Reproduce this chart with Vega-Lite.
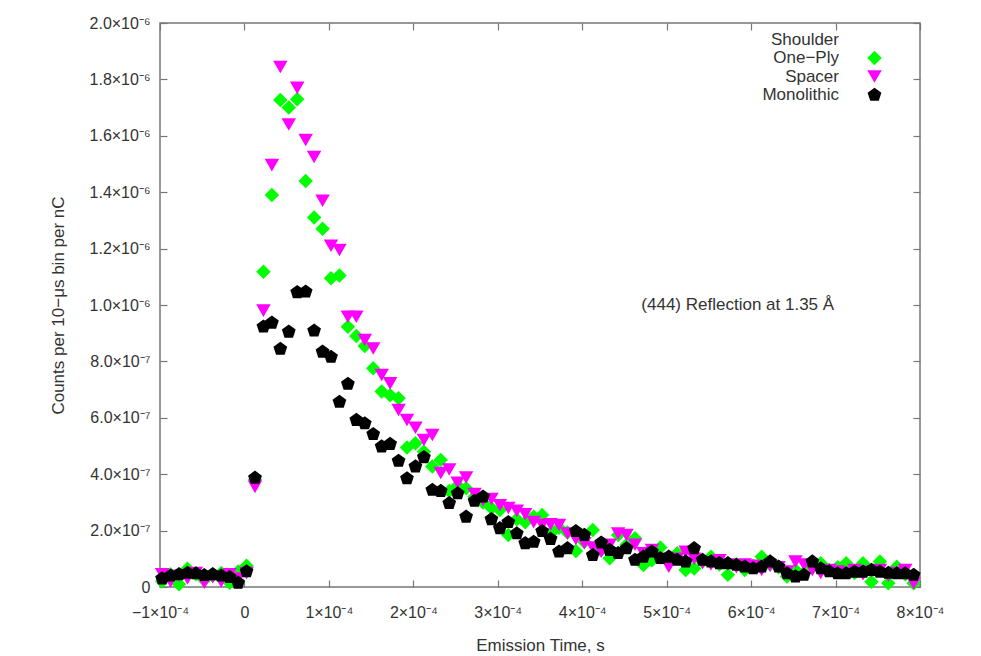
{
 "$schema": "https://vega.github.io/schema/vega-lite/v6.json",
 "width": 760, "height": 564,
 "autosize": {"type": "none"},
 "padding": {"left": 160, "top": 23, "right": 61, "bottom": 69},
 "background": "#ffffff",
 "config": {
  "font": "Liberation Sans",
  "view": {"stroke": "#777777", "strokeWidth": 1.5},
  "axis": {"grid": false, "domain": false, "tickColor": "#777777", "tickSize": -7, "tickWidth": 1.2, "labelColor": "#333333", "labelFont": "Liberation Sans", "labelFontSize": 16, "labelFlush": false, "titleFont": "Liberation Sans", "titleFontSize": 17, "titleFontWeight": "normal", "titleColor": "#333333"}
 },
 "layer": [
  {
   "data": {"values": [
    {"t":-9.75e-5,"v":0.2e-7,"s":"One−Ply"},{"t":-8.75e-5,"v":0.45e-7,"s":"One−Ply"},{"t":-7.75e-5,"v":0.1e-7,"s":"One−Ply"},{"t":-6.75e-5,"v":0.65e-7,"s":"One−Ply"},{"t":-5.75e-5,"v":0.45e-7,"s":"One−Ply"},{"t":-4.75e-5,"v":0.25e-7,"s":"One−Ply"},{"t":-3.75e-5,"v":0.4e-7,"s":"One−Ply"},{"t":-2.75e-5,"v":0.5e-7,"s":"One−Ply"},{"t":-1.75e-5,"v":0.15e-7,"s":"One−Ply"},{"t":-0.75e-5,"v":0.55e-7,"s":"One−Ply"},{"t":0.25e-5,"v":0.75e-7,"s":"One−Ply"},
    {"t":1.25e-5,"v":3.8e-7,"s":"One−Ply"},{"t":2.25e-5,"v":11.18e-7,"s":"One−Ply"},{"t":3.25e-5,"v":13.9e-7,"s":"One−Ply"},{"t":4.25e-5,"v":17.27e-7,"s":"One−Ply"},{"t":5.25e-5,"v":17.0e-7,"s":"One−Ply"},{"t":6.25e-5,"v":17.3e-7,"s":"One−Ply"},{"t":7.25e-5,"v":14.4e-7,"s":"One−Ply"},{"t":8.25e-5,"v":13.1e-7,"s":"One−Ply"},{"t":9.25e-5,"v":12.7e-7,"s":"One−Ply"},{"t":10.25e-5,"v":10.95e-7,"s":"One−Ply"},
    {"t":11.25e-5,"v":11.05e-7,"s":"One−Ply"},{"t":12.25e-5,"v":9.23e-7,"s":"One−Ply"},{"t":13.25e-5,"v":8.9e-7,"s":"One−Ply"},{"t":14.25e-5,"v":8.55e-7,"s":"One−Ply"},{"t":15.25e-5,"v":7.76e-7,"s":"One−Ply"},{"t":16.25e-5,"v":6.93e-7,"s":"One−Ply"},{"t":17.25e-5,"v":6.8e-7,"s":"One−Ply"},{"t":18.25e-5,"v":6.69e-7,"s":"One−Ply"},{"t":19.25e-5,"v":4.95e-7,"s":"One−Ply"},{"t":20.25e-5,"v":5.1e-7,"s":"One−Ply"},
    {"t":21.25e-5,"v":4.8e-7,"s":"One−Ply"},{"t":22.25e-5,"v":4.27e-7,"s":"One−Ply"},{"t":23.25e-5,"v":4.5e-7,"s":"One−Ply"},{"t":24.25e-5,"v":3.4e-7,"s":"One−Ply"},{"t":25.25e-5,"v":3.6e-7,"s":"One−Ply"},{"t":26.25e-5,"v":3.5e-7,"s":"One−Ply"},{"t":27.25e-5,"v":3.2e-7,"s":"One−Ply"},{"t":28.25e-5,"v":3.0e-7,"s":"One−Ply"},{"t":29.25e-5,"v":2.8e-7,"s":"One−Ply"},{"t":30.25e-5,"v":2.73e-7,"s":"One−Ply"},
    {"t":31.25e-5,"v":1.84e-7,"s":"One−Ply"},{"t":32.25e-5,"v":2.4e-7,"s":"One−Ply"},{"t":33.25e-5,"v":2.3e-7,"s":"One−Ply"},{"t":34.25e-5,"v":2.49e-7,"s":"One−Ply"},{"t":35.25e-5,"v":2.55e-7,"s":"One−Ply"},{"t":36.25e-5,"v":1.9e-7,"s":"One−Ply"},{"t":37.25e-5,"v":2.1e-7,"s":"One−Ply"},{"t":38.25e-5,"v":1.93e-7,"s":"One−Ply"},{"t":39.25e-5,"v":1.28e-7,"s":"One−Ply"},{"t":40.25e-5,"v":1.6e-7,"s":"One−Ply"},
    {"t":41.25e-5,"v":2.02e-7,"s":"One−Ply"},{"t":42.25e-5,"v":1.3e-7,"s":"One−Ply"},{"t":43.25e-5,"v":1.02e-7,"s":"One−Ply"},{"t":44.25e-5,"v":1.84e-7,"s":"One−Ply"},{"t":45.25e-5,"v":1.5e-7,"s":"One−Ply"},{"t":46.25e-5,"v":1.73e-7,"s":"One−Ply"},{"t":47.25e-5,"v":0.78e-7,"s":"One−Ply"},{"t":48.25e-5,"v":0.95e-7,"s":"One−Ply"},{"t":49.25e-5,"v":1.4e-7,"s":"One−Ply"},{"t":50.25e-5,"v":1.0e-7,"s":"One−Ply"},
    {"t":51.25e-5,"v":1.2e-7,"s":"One−Ply"},{"t":52.25e-5,"v":0.6e-7,"s":"One−Ply"},{"t":53.25e-5,"v":0.66e-7,"s":"One−Ply"},{"t":54.25e-5,"v":0.9e-7,"s":"One−Ply"},{"t":55.25e-5,"v":1.07e-7,"s":"One−Ply"},{"t":56.25e-5,"v":0.8e-7,"s":"One−Ply"},{"t":57.25e-5,"v":0.43e-7,"s":"One−Ply"},{"t":58.25e-5,"v":0.8e-7,"s":"One−Ply"},{"t":59.25e-5,"v":0.6e-7,"s":"One−Ply"},{"t":60.25e-5,"v":0.75e-7,"s":"One−Ply"},
    {"t":61.25e-5,"v":1.07e-7,"s":"One−Ply"},{"t":62.25e-5,"v":0.8e-7,"s":"One−Ply"},{"t":63.25e-5,"v":0.7e-7,"s":"One−Ply"},{"t":64.25e-5,"v":0.37e-7,"s":"One−Ply"},{"t":65.25e-5,"v":0.6e-7,"s":"One−Ply"},{"t":66.25e-5,"v":0.5e-7,"s":"One−Ply"},{"t":67.25e-5,"v":0.7e-7,"s":"One−Ply"},{"t":68.25e-5,"v":0.84e-7,"s":"One−Ply"},{"t":69.25e-5,"v":0.6e-7,"s":"One−Ply"},{"t":70.25e-5,"v":0.7e-7,"s":"One−Ply"},
    {"t":71.25e-5,"v":0.84e-7,"s":"One−Ply"},{"t":72.25e-5,"v":0.5e-7,"s":"One−Ply"},{"t":73.25e-5,"v":0.84e-7,"s":"One−Ply"},{"t":74.25e-5,"v":0.19e-7,"s":"One−Ply"},{"t":75.25e-5,"v":0.9e-7,"s":"One−Ply"},{"t":76.25e-5,"v":0.13e-7,"s":"One−Ply"},{"t":77.25e-5,"v":0.72e-7,"s":"One−Ply"},{"t":78.25e-5,"v":0.45e-7,"s":"One−Ply"},{"t":79.25e-5,"v":0.13e-7,"s":"One−Ply"},

    {"t":-9.75e-5,"v":0.45e-7,"s":"Spacer"},{"t":-8.75e-5,"v":0.2e-7,"s":"Spacer"},{"t":-7.75e-5,"v":0.4e-7,"s":"Spacer"},{"t":-6.75e-5,"v":0.3e-7,"s":"Spacer"},{"t":-5.75e-5,"v":0.5e-7,"s":"Spacer"},{"t":-4.75e-5,"v":0.15e-7,"s":"Spacer"},{"t":-3.75e-5,"v":0.35e-7,"s":"Spacer"},{"t":-2.75e-5,"v":0.2e-7,"s":"Spacer"},{"t":-1.75e-5,"v":0.45e-7,"s":"Spacer"},{"t":-0.75e-5,"v":0.3e-7,"s":"Spacer"},{"t":0.25e-5,"v":0.5e-7,"s":"Spacer"},
    {"t":1.25e-5,"v":3.55e-7,"s":"Spacer"},{"t":2.25e-5,"v":9.8e-7,"s":"Spacer"},{"t":3.25e-5,"v":14.96e-7,"s":"Spacer"},{"t":4.25e-5,"v":18.44e-7,"s":"Spacer"},{"t":5.25e-5,"v":16.4e-7,"s":"Spacer"},{"t":6.25e-5,"v":17.7e-7,"s":"Spacer"},{"t":7.25e-5,"v":15.85e-7,"s":"Spacer"},{"t":8.25e-5,"v":15.25e-7,"s":"Spacer"},{"t":9.25e-5,"v":13.7e-7,"s":"Spacer"},{"t":10.25e-5,"v":12.1e-7,"s":"Spacer"},
    {"t":11.25e-5,"v":11.95e-7,"s":"Spacer"},{"t":12.25e-5,"v":9.58e-7,"s":"Spacer"},{"t":13.25e-5,"v":9.58e-7,"s":"Spacer"},{"t":14.25e-5,"v":8.76e-7,"s":"Spacer"},{"t":15.25e-5,"v":8.46e-7,"s":"Spacer"},{"t":16.25e-5,"v":7.52e-7,"s":"Spacer"},{"t":17.25e-5,"v":7.22e-7,"s":"Spacer"},{"t":18.25e-5,"v":6.28e-7,"s":"Spacer"},{"t":19.25e-5,"v":5.92e-7,"s":"Spacer"},{"t":20.25e-5,"v":5.65e-7,"s":"Spacer"},
    {"t":21.25e-5,"v":5.21e-7,"s":"Spacer"},{"t":22.25e-5,"v":5.39e-7,"s":"Spacer"},{"t":23.25e-5,"v":4.04e-7,"s":"Spacer"},{"t":24.25e-5,"v":4.17e-7,"s":"Spacer"},{"t":25.25e-5,"v":3.7e-7,"s":"Spacer"},{"t":26.25e-5,"v":3.88e-7,"s":"Spacer"},{"t":27.25e-5,"v":3.3e-7,"s":"Spacer"},{"t":28.25e-5,"v":3.08e-7,"s":"Spacer"},{"t":29.25e-5,"v":3.12e-7,"s":"Spacer"},{"t":30.25e-5,"v":2.9e-7,"s":"Spacer"},
    {"t":31.25e-5,"v":2.8e-7,"s":"Spacer"},{"t":32.25e-5,"v":2.7e-7,"s":"Spacer"},{"t":33.25e-5,"v":2.58e-7,"s":"Spacer"},{"t":34.25e-5,"v":2.3e-7,"s":"Spacer"},{"t":35.25e-5,"v":2.2e-7,"s":"Spacer"},{"t":36.25e-5,"v":2.22e-7,"s":"Spacer"},{"t":37.25e-5,"v":2.2e-7,"s":"Spacer"},{"t":38.25e-5,"v":1.9e-7,"s":"Spacer"},{"t":39.25e-5,"v":1.7e-7,"s":"Spacer"},{"t":40.25e-5,"v":1.55e-7,"s":"Spacer"},
    {"t":41.25e-5,"v":1.4e-7,"s":"Spacer"},{"t":42.25e-5,"v":1.25e-7,"s":"Spacer"},{"t":43.25e-5,"v":1.5e-7,"s":"Spacer"},{"t":44.25e-5,"v":1.9e-7,"s":"Spacer"},{"t":45.25e-5,"v":1.84e-7,"s":"Spacer"},{"t":46.25e-5,"v":1.5e-7,"s":"Spacer"},{"t":47.25e-5,"v":1.2e-7,"s":"Spacer"},{"t":48.25e-5,"v":1.31e-7,"s":"Spacer"},{"t":49.25e-5,"v":1.0e-7,"s":"Spacer"},{"t":50.25e-5,"v":0.72e-7,"s":"Spacer"},
    {"t":51.25e-5,"v":1.0e-7,"s":"Spacer"},{"t":52.25e-5,"v":1.25e-7,"s":"Spacer"},{"t":53.25e-5,"v":1.0e-7,"s":"Spacer"},{"t":54.25e-5,"v":0.85e-7,"s":"Spacer"},{"t":55.25e-5,"v":0.8e-7,"s":"Spacer"},{"t":56.25e-5,"v":0.95e-7,"s":"Spacer"},{"t":57.25e-5,"v":0.8e-7,"s":"Spacer"},{"t":58.25e-5,"v":0.7e-7,"s":"Spacer"},{"t":59.25e-5,"v":0.8e-7,"s":"Spacer"},{"t":60.25e-5,"v":0.75e-7,"s":"Spacer"},
    {"t":61.25e-5,"v":0.6e-7,"s":"Spacer"},{"t":62.25e-5,"v":0.75e-7,"s":"Spacer"},{"t":63.25e-5,"v":0.7e-7,"s":"Spacer"},{"t":64.25e-5,"v":0.55e-7,"s":"Spacer"},{"t":65.25e-5,"v":0.9e-7,"s":"Spacer"},{"t":66.25e-5,"v":0.8e-7,"s":"Spacer"},{"t":67.25e-5,"v":0.6e-7,"s":"Spacer"},{"t":68.25e-5,"v":0.5e-7,"s":"Spacer"},{"t":69.25e-5,"v":0.6e-7,"s":"Spacer"},{"t":70.25e-5,"v":0.55e-7,"s":"Spacer"},
    {"t":71.25e-5,"v":0.5e-7,"s":"Spacer"},{"t":72.25e-5,"v":0.6e-7,"s":"Spacer"},{"t":73.25e-5,"v":0.45e-7,"s":"Spacer"},{"t":74.25e-5,"v":0.55e-7,"s":"Spacer"},{"t":75.25e-5,"v":0.6e-7,"s":"Spacer"},{"t":76.25e-5,"v":0.4e-7,"s":"Spacer"},{"t":77.25e-5,"v":0.5e-7,"s":"Spacer"},{"t":78.25e-5,"v":0.6e-7,"s":"Spacer"},{"t":79.25e-5,"v":0.13e-7,"s":"Spacer"},

    {"t":-9.75e-5,"v":0.3e-7,"s":"Monolithic"},{"t":-8.75e-5,"v":0.4e-7,"s":"Monolithic"},{"t":-7.75e-5,"v":0.45e-7,"s":"Monolithic"},{"t":-6.75e-5,"v":0.5e-7,"s":"Monolithic"},{"t":-5.75e-5,"v":0.48e-7,"s":"Monolithic"},{"t":-4.75e-5,"v":0.42e-7,"s":"Monolithic"},{"t":-3.75e-5,"v":0.45e-7,"s":"Monolithic"},{"t":-2.75e-5,"v":0.4e-7,"s":"Monolithic"},{"t":-1.75e-5,"v":0.35e-7,"s":"Monolithic"},{"t":-0.75e-5,"v":0.15e-7,"s":"Monolithic"},{"t":0.25e-5,"v":0.55e-7,"s":"Monolithic"},
    {"t":1.25e-5,"v":3.87e-7,"s":"Monolithic"},{"t":2.25e-5,"v":9.23e-7,"s":"Monolithic"},{"t":3.25e-5,"v":9.37e-7,"s":"Monolithic"},{"t":4.25e-5,"v":8.44e-7,"s":"Monolithic"},{"t":5.25e-5,"v":9.05e-7,"s":"Monolithic"},{"t":6.25e-5,"v":10.45e-7,"s":"Monolithic"},{"t":7.25e-5,"v":10.47e-7,"s":"Monolithic"},{"t":8.25e-5,"v":9.09e-7,"s":"Monolithic"},{"t":9.25e-5,"v":8.34e-7,"s":"Monolithic"},{"t":10.25e-5,"v":8.16e-7,"s":"Monolithic"},
    {"t":11.25e-5,"v":6.56e-7,"s":"Monolithic"},{"t":12.25e-5,"v":7.2e-7,"s":"Monolithic"},{"t":13.25e-5,"v":5.92e-7,"s":"Monolithic"},{"t":14.25e-5,"v":5.8e-7,"s":"Monolithic"},{"t":15.25e-5,"v":5.42e-7,"s":"Monolithic"},{"t":16.25e-5,"v":4.98e-7,"s":"Monolithic"},{"t":17.25e-5,"v":5.07e-7,"s":"Monolithic"},{"t":18.25e-5,"v":4.47e-7,"s":"Monolithic"},{"t":19.25e-5,"v":3.85e-7,"s":"Monolithic"},{"t":20.25e-5,"v":4.27e-7,"s":"Monolithic"},
    {"t":21.25e-5,"v":4.6e-7,"s":"Monolithic"},{"t":22.25e-5,"v":3.44e-7,"s":"Monolithic"},{"t":23.25e-5,"v":3.4e-7,"s":"Monolithic"},{"t":24.25e-5,"v":2.97e-7,"s":"Monolithic"},{"t":25.25e-5,"v":3.32e-7,"s":"Monolithic"},{"t":26.25e-5,"v":2.49e-7,"s":"Monolithic"},{"t":27.25e-5,"v":3.05e-7,"s":"Monolithic"},{"t":28.25e-5,"v":3.2e-7,"s":"Monolithic"},{"t":29.25e-5,"v":2.4e-7,"s":"Monolithic"},{"t":30.25e-5,"v":2.08e-7,"s":"Monolithic"},
    {"t":31.25e-5,"v":2.3e-7,"s":"Monolithic"},{"t":32.25e-5,"v":1.9e-7,"s":"Monolithic"},{"t":33.25e-5,"v":1.55e-7,"s":"Monolithic"},{"t":34.25e-5,"v":1.6e-7,"s":"Monolithic"},{"t":35.25e-5,"v":1.98e-7,"s":"Monolithic"},{"t":36.25e-5,"v":1.7e-7,"s":"Monolithic"},{"t":37.25e-5,"v":1.25e-7,"s":"Monolithic"},{"t":38.25e-5,"v":1.37e-7,"s":"Monolithic"},{"t":39.25e-5,"v":1.98e-7,"s":"Monolithic"},{"t":40.25e-5,"v":1.84e-7,"s":"Monolithic"},
    {"t":41.25e-5,"v":1.13e-7,"s":"Monolithic"},{"t":42.25e-5,"v":1.57e-7,"s":"Monolithic"},{"t":43.25e-5,"v":1.31e-7,"s":"Monolithic"},{"t":44.25e-5,"v":1.2e-7,"s":"Monolithic"},{"t":45.25e-5,"v":1.37e-7,"s":"Monolithic"},{"t":46.25e-5,"v":0.96e-7,"s":"Monolithic"},{"t":47.25e-5,"v":1.07e-7,"s":"Monolithic"},{"t":48.25e-5,"v":1.25e-7,"s":"Monolithic"},{"t":49.25e-5,"v":1.02e-7,"s":"Monolithic"},{"t":50.25e-5,"v":1.07e-7,"s":"Monolithic"},
    {"t":51.25e-5,"v":0.96e-7,"s":"Monolithic"},{"t":52.25e-5,"v":0.9e-7,"s":"Monolithic"},{"t":53.25e-5,"v":1.37e-7,"s":"Monolithic"},{"t":54.25e-5,"v":0.96e-7,"s":"Monolithic"},{"t":55.25e-5,"v":0.9e-7,"s":"Monolithic"},{"t":56.25e-5,"v":0.84e-7,"s":"Monolithic"},{"t":57.25e-5,"v":0.84e-7,"s":"Monolithic"},{"t":58.25e-5,"v":0.78e-7,"s":"Monolithic"},{"t":59.25e-5,"v":0.72e-7,"s":"Monolithic"},{"t":60.25e-5,"v":0.66e-7,"s":"Monolithic"},
    {"t":61.25e-5,"v":0.72e-7,"s":"Monolithic"},{"t":62.25e-5,"v":0.9e-7,"s":"Monolithic"},{"t":63.25e-5,"v":0.72e-7,"s":"Monolithic"},{"t":64.25e-5,"v":0.48e-7,"s":"Monolithic"},{"t":65.25e-5,"v":0.37e-7,"s":"Monolithic"},{"t":66.25e-5,"v":0.43e-7,"s":"Monolithic"},{"t":67.25e-5,"v":0.9e-7,"s":"Monolithic"},{"t":68.25e-5,"v":0.66e-7,"s":"Monolithic"},{"t":69.25e-5,"v":0.55e-7,"s":"Monolithic"},{"t":70.25e-5,"v":0.48e-7,"s":"Monolithic"},
    {"t":71.25e-5,"v":0.48e-7,"s":"Monolithic"},{"t":72.25e-5,"v":0.54e-7,"s":"Monolithic"},{"t":73.25e-5,"v":0.54e-7,"s":"Monolithic"},{"t":74.25e-5,"v":0.6e-7,"s":"Monolithic"},{"t":75.25e-5,"v":0.54e-7,"s":"Monolithic"},{"t":76.25e-5,"v":0.5e-7,"s":"Monolithic"},{"t":77.25e-5,"v":0.48e-7,"s":"Monolithic"},{"t":78.25e-5,"v":0.48e-7,"s":"Monolithic"},{"t":79.25e-5,"v":0.43e-7,"s":"Monolithic"}
   ]},
   "mark": {"type": "point", "filled": true, "opacity": 1, "size": 210, "strokeWidth": 0},
   "encoding": {
    "x": {"field": "t", "type": "quantitative",
     "scale": {"domain": [-1e-4, 8e-4], "nice": false, "zero": false},
     "axis": {"orient": "bottom", "values": [-1e-4, 0, 1e-4, 2e-4, 3e-4, 4e-4, 5e-4, 6e-4, 7e-4, 8e-4],
      "labelExpr": "datum.value == 0 ? '0' : format(round(datum.value*1e4),'d') + '×10⁻⁴'",
      "labelPadding": 24, "title": "Emission Time, s", "titlePadding": 17}},
    "y": {"field": "v", "type": "quantitative",
     "scale": {"domain": [0, 2e-6], "nice": false, "zero": true},
     "axis": {"orient": "left", "values": [0, 2e-7, 4e-7, 6e-7, 8e-7, 1e-6, 1.2e-6, 1.4e-6, 1.6e-6, 1.8e-6, 2e-6],
      "labelExpr": "datum.value == 0 ? '0' : (datum.value < 9.9e-7 ? format(datum.value*1e7,'.1f') + '×10⁻⁷' : format(datum.value*1e6,'.1f') + '×10⁻⁶')",
      "labelPadding": 17, "title": "Counts per 10−μs bin per nC", "titlePadding": 22}},
    "color": {"field": "s", "type": "nominal",
     "scale": {"domain": ["Shoulder", "One−Ply", "Spacer", "Monolithic"], "range": ["transparent", "#00ff00", "#ff00ff", "#000000"]},
     "legend": {"orient": "none", "legendX": 706, "legendY": 8, "title": null, "labelAlign": "right", "labelOffset": -44, "labelFontSize": 17, "labelColor": "#333333", "labelFont": "Liberation Sans", "symbolSize": 210, "rowPadding": 0.5, "padding": 0, "symbolStrokeWidth": 0, "symbolOpacity": 1}},
    "shape": {"field": "s", "type": "nominal",
     "scale": {"domain": ["Shoulder", "One−Ply", "Spacer", "Monolithic"], "range": ["circle", "diamond", "triangle-down", "M0,-1L0.951,-0.309L0.588,0.809L-0.588,0.809L-0.951,-0.309Z"]}}
   }
  },
  {
   "data": {"values": [{"t": 4.7e-4, "v": 1.0e-6, "label": "(444) Reflection at 1.35 Å"}]},
   "mark": {"type": "text", "align": "left", "baseline": "middle", "fontSize": 17, "color": "#333333", "font": "Liberation Sans"},
   "encoding": {
    "x": {"field": "t", "type": "quantitative", "scale": {"domain": [-1e-4, 8e-4], "nice": false, "zero": false},
     "axis": {"orient": "top", "labels": false, "title": null, "values": [-1e-4, 0, 1e-4, 2e-4, 3e-4, 4e-4, 5e-4, 6e-4, 7e-4, 8e-4]}},
    "y": {"field": "v", "type": "quantitative", "scale": {"domain": [0, 2e-6], "nice": false, "zero": true},
     "axis": {"orient": "right", "labels": false, "title": null, "values": [0, 2e-7, 4e-7, 6e-7, 8e-7, 1e-6, 1.2e-6, 1.4e-6, 1.6e-6, 1.8e-6, 2e-6]}},
    "text": {"field": "label"}
   }
  }
 ],
 "resolve": {"axis": {"x": "independent", "y": "independent"}}
}
